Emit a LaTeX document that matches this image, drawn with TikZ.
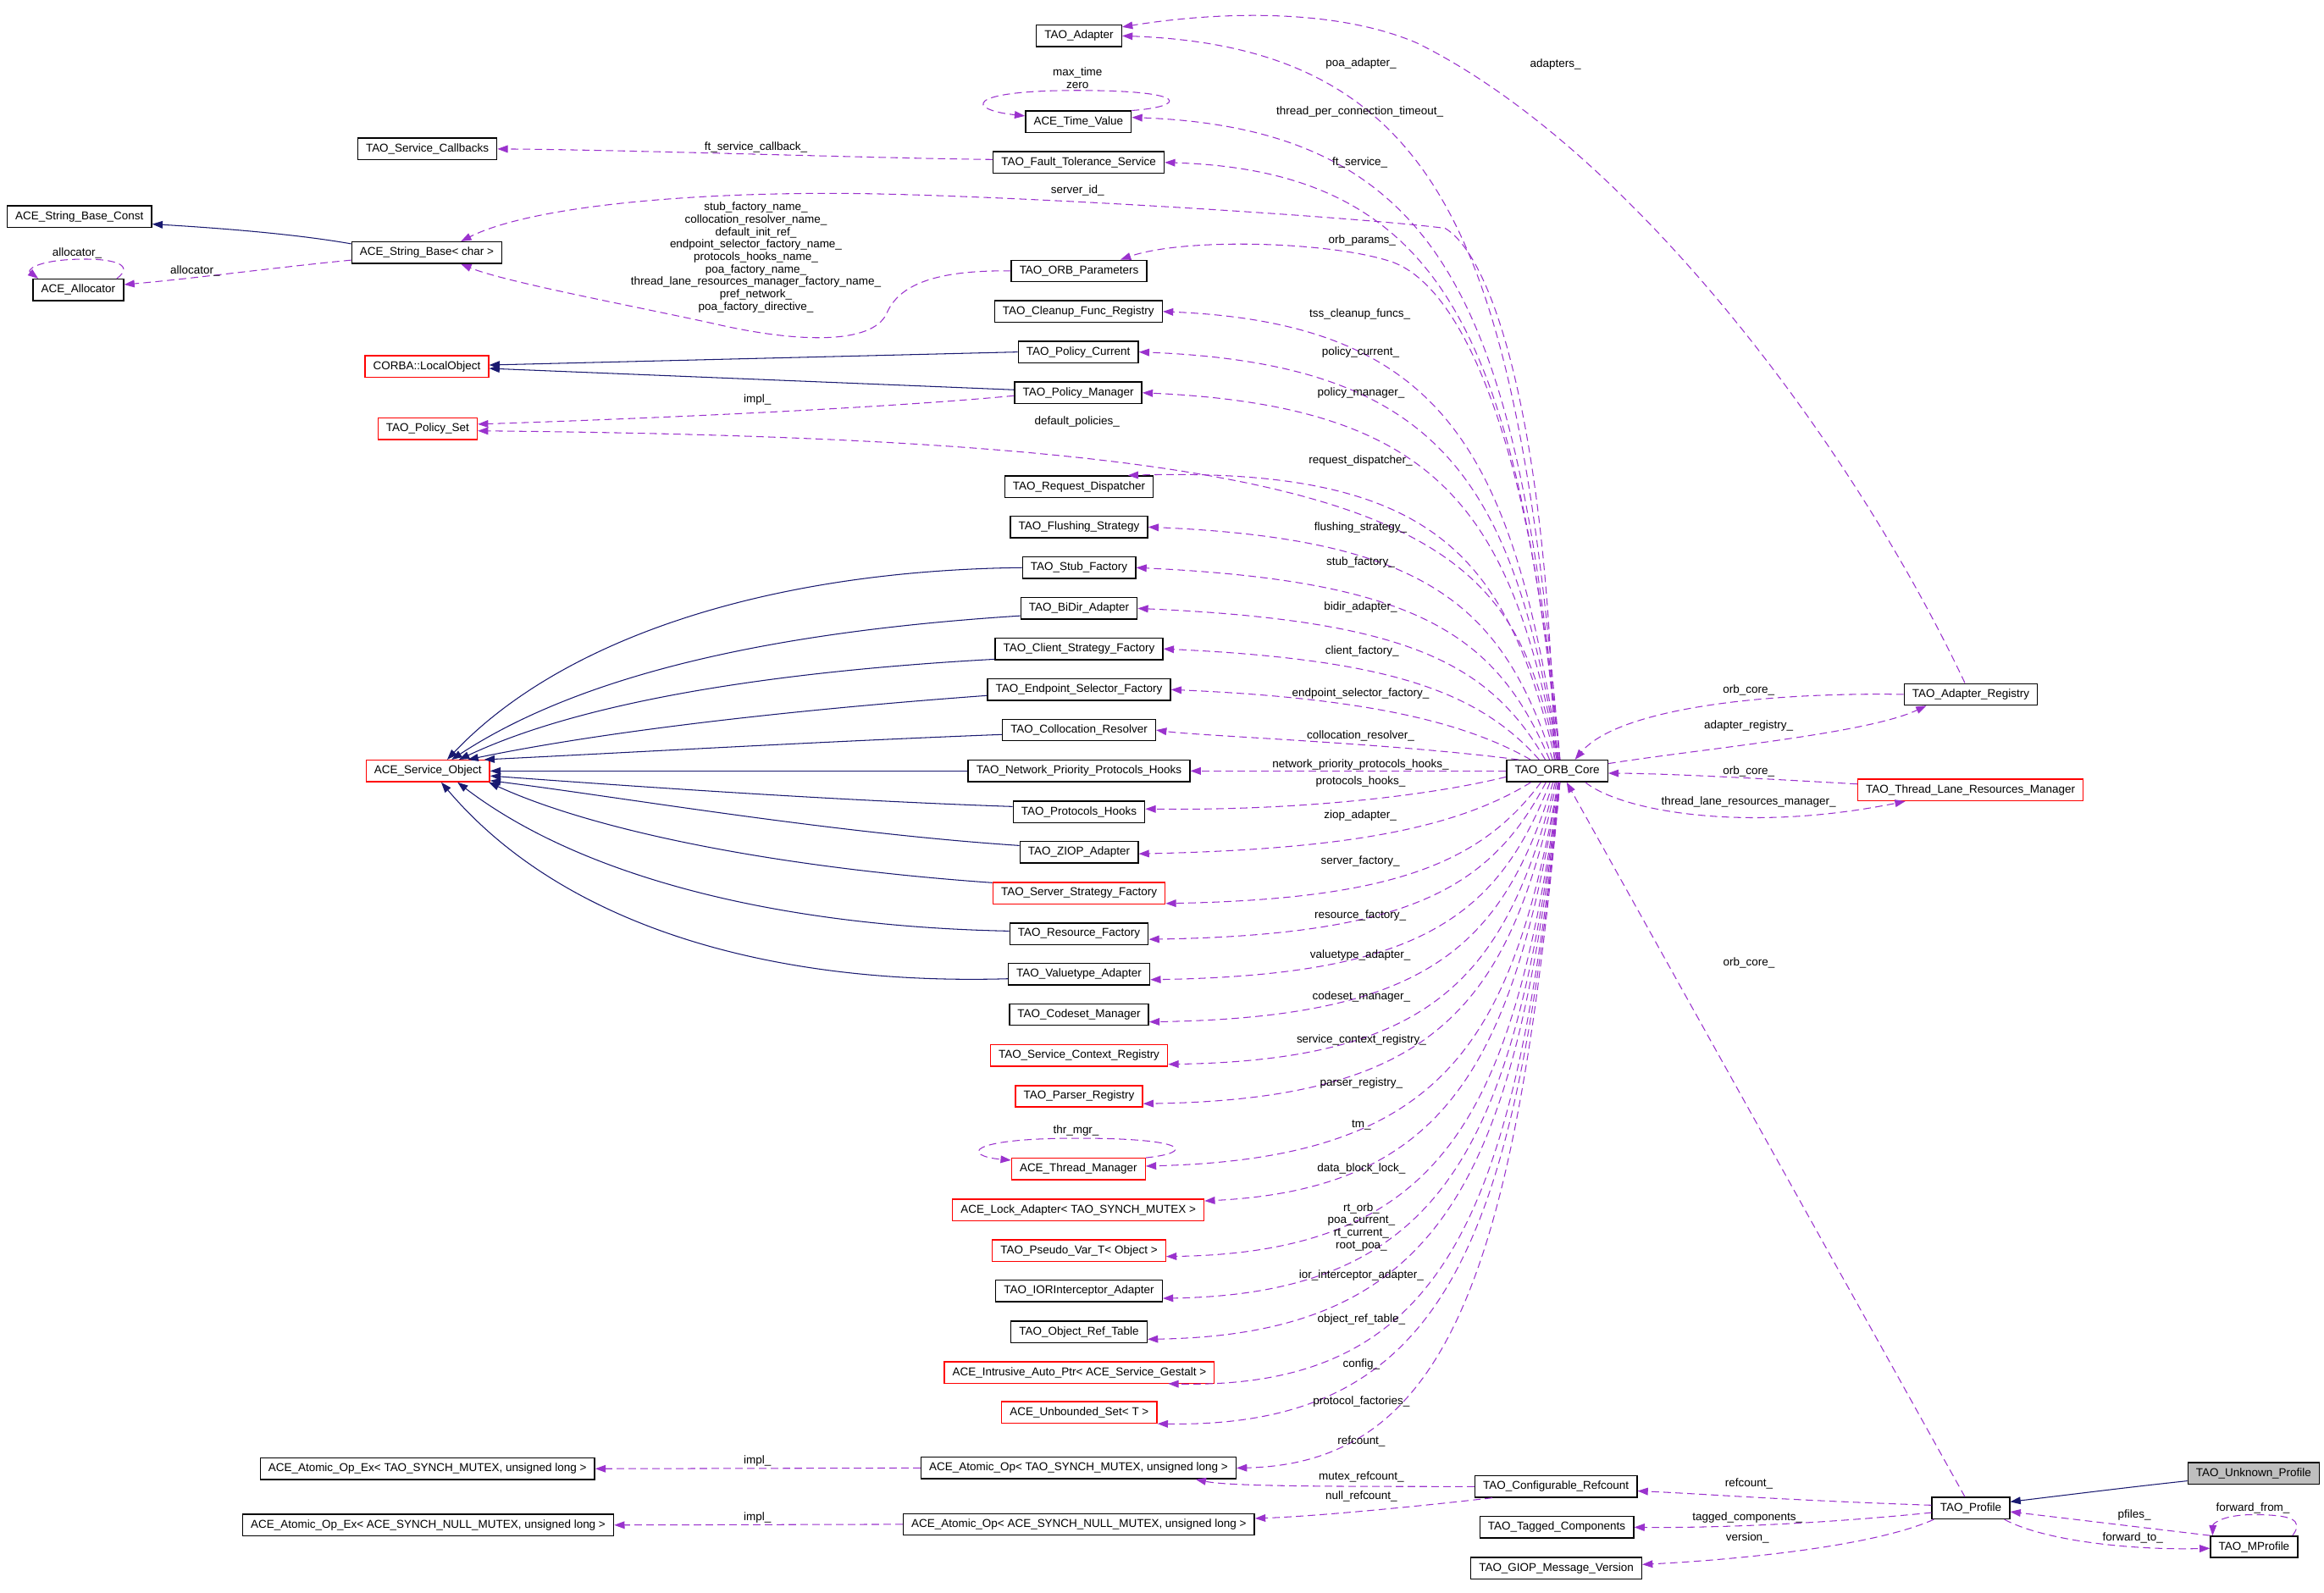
\documentclass[tikz,border=0pt]{standalone}
\usepackage{fontspec}
\setmainfont{Liberation Sans}
\usetikzlibrary{arrows.meta,calc}
\definecolor{dxpurple}{HTML}{9A32CD}
\definecolor{dxnavy}{HTML}{191970}
\definecolor{dxgray}{HTML}{BFBFBF}
\newcommand\dxfont{\fontsize{7.7pt}{8.4pt}\selectfont}
\tikzset{
 cls/.style={draw=black, line width=0.8pt, inner xsep=5.5pt, inner ysep=0pt, minimum height=14.5pt, font=\dxfont, fill=white},
 rcls/.style={cls, draw=red},
 gcls/.style={cls, fill=dxgray},
 lbl/.style={font=\dxfont, inner sep=0pt, align=center},
 dep/.style={draw=dxpurple, line width=0.6pt, dash pattern=on 5pt off 3pt, -{Triangle[length=7pt,width=5pt]}},
 inh/.style={draw=dxnavy, line width=0.6pt, -{Triangle[length=7pt,width=5pt]}},
}
\newcommand\orbedge[3]{%
  \draw[dep] let \p1=(#1), \p2=(#2),
    \n1={abs(\y2-(\y1))},
    \n2={\x1+2-36*exp(-\n1/80)},
    \n3={990-4500/(\n1+5)},
    \n4={\y2+(#3)}
  in ({\n2},{\y1}) .. controls ({\n2+0.4*(\n3-(\n2))},{\y1+0.7*(\n4-(\y1))}) and ({\n3},{\n4}) .. (\p2);}
\begin{document}
\begin{tikzpicture}[x=1pt,y=1pt]
\fill[white] (0,0) rectangle (1568,-1074.3);
\useasboundingbox (0,0) rectangle (1568,-1074.3);
% left column
\node[cls] (sbc) at (53.6,-146.2) {ACE\_String\_Base\_Const};
\node[cls] (sb) at (288,-170.5) {ACE\_String\_Base< char >};
\node[cls] (alloc) at (52.8,-195.6) {ACE\_Allocator};
\node[cls] (scb) at (288.3,-100.5) {TAO\_Service\_Callbacks};
\node[rcls] (lobj) at (288,-247.3) {CORBA::LocalObject};
\node[rcls] (pset) at (288.5,-289.2) {TAO\_Policy\_Set};
\node[rcls] (svc) at (288.7,-520.2) {ACE\_Service\_Object};
\node[cls] (aex1) at (288.4,-991) {ACE\_Atomic\_Op\_Ex< TAO\_SYNCH\_MUTEX, unsigned long >};
\node[cls] (aex2) at (288.9,-1029) {ACE\_Atomic\_Op\_Ex< ACE\_SYNCH\_NULL\_MUTEX, unsigned long >};
% middle column
\node[cls] (adapter) at (728,-24.2) {TAO\_Adapter};
\node[cls] (tv) at (727.6,-82.2) {ACE\_Time\_Value};
\node[cls] (fts) at (727.8,-109.6) {TAO\_Fault\_Tolerance\_Service};
\node[cls] (orbp) at (728,-182.8) {TAO\_ORB\_Parameters};
\node[cls] (cfr) at (727.6,-210.2) {TAO\_Cleanup\_Func\_Registry};
\node[cls] (pc) at (727.5,-237.5) {TAO\_Policy\_Current};
\node[cls] (pm) at (727.5,-265) {TAO\_Policy\_Manager};
\node[cls] (rd) at (728,-328.4) {TAO\_Request\_Dispatcher};
\node[cls] (fs) at (728,-355.6) {TAO\_Flushing\_Strategy};
\node[cls] (stub) at (728,-383) {TAO\_Stub\_Factory};
\node[cls] (bidir) at (728,-410.5) {TAO\_BiDir\_Adapter};
\node[cls] (csf) at (728,-437.8) {TAO\_Client\_Strategy\_Factory};
\node[cls] (esf) at (728,-465.3) {TAO\_Endpoint\_Selector\_Factory};
\node[cls] (cres) at (728,-492.6) {TAO\_Collocation\_Resolver};
\node[cls] (nph) at (728,-520.2) {TAO\_Network\_Priority\_Protocols\_Hooks};
\node[cls] (ph) at (728,-547.8) {TAO\_Protocols\_Hooks};
\node[cls] (ziop) at (728,-575.1) {TAO\_ZIOP\_Adapter};
\node[rcls] (ssf) at (728,-602.6) {TAO\_Server\_Strategy\_Factory};
\node[cls] (rf) at (728,-630) {TAO\_Resource\_Factory};
\node[cls] (vta) at (728,-657.4) {TAO\_Valuetype\_Adapter};
\node[cls] (csm) at (728,-684.5) {TAO\_Codeset\_Manager};
\node[rcls] (scr) at (728,-712.1) {TAO\_Service\_Context\_Registry};
\node[rcls] (preg) at (728,-739.7) {TAO\_Parser\_Registry};
\node[rcls] (tmgr) at (727.6,-788.8) {ACE\_Thread\_Manager};
\node[rcls] (lock) at (727.5,-816.3) {ACE\_Lock\_Adapter< TAO\_SYNCH\_MUTEX >};
\node[rcls] (pvar) at (728,-843.8) {TAO\_Pseudo\_Var\_T< Object >};
\node[cls] (iora) at (728,-871) {TAO\_IORInterceptor\_Adapter};
\node[cls] (ort) at (728,-898.6) {TAO\_Object\_Ref\_Table};
\node[rcls] (iap) at (728.2,-926) {ACE\_Intrusive\_Auto\_Ptr< ACE\_Service\_Gestalt >};
\node[rcls] (uset) at (728.2,-953) {ACE\_Unbounded\_Set< T >};
\node[cls] (aop1) at (727.7,-990.5) {ACE\_Atomic\_Op< TAO\_SYNCH\_MUTEX, unsigned long >};
\node[cls] (aop2) at (727.9,-1028.5) {ACE\_Atomic\_Op< ACE\_SYNCH\_NULL\_MUTEX, unsigned long >};
% right part
\node[cls] (orb) at (1050.6,-520.2) {TAO\_ORB\_Core};
\node[cls] (areg) at (1329.7,-468.5) {TAO\_Adapter\_Registry};
\node[rcls] (tlrm) at (1329.5,-533) {TAO\_Thread\_Lane\_Resources\_Manager};
\node[cls] (cref) at (1049.8,-1003) {TAO\_Configurable\_Refcount};
\node[cls] (tagc) at (1050.3,-1030.5) {TAO\_Tagged\_Components};
\node[cls] (giop) at (1050,-1058) {TAO\_GIOP\_Message\_Version};
\node[cls] (prof) at (1329.7,-1017.6) {TAO\_Profile};
\node[gcls] (unk) at (1520.5,-994.2) {TAO\_Unknown\_Profile};
\node[cls] (mprof) at (1520.8,-1043.7) {TAO\_MProfile};

% ---- ORB_Core members, upper half ----
\orbedge{orb.north}{adapter.east}{-8}
\orbedge{orb.north}{[yshift=3pt]tv.east}{-8}
\orbedge{orb.north}{fts.east}{-6}
\draw[dep] ([xshift=-2pt]orb.north) .. controls (1045,-300) and (1010,-175) .. (975,-154)
  .. controls (920,-147) and (720,-134) .. (600,-131)
  .. controls (480,-128) and (360,-138) .. ([xshift=23pt]sb.north);
\draw[dep] (orb.north) .. controls (1040,-350) and (1000,-200) .. (940,-177)
  .. controls (900,-163) and (800,-160) .. ([xshift=28pt]orbp.north);
\orbedge{orb.north}{cfr.east}{-8}
\orbedge{orb.north}{pc.east}{-8}
\orbedge{orb.north}{pm.east}{-9}
\orbedge{orb.north}{[yshift=-1.5pt]pset.east}{-6}
\orbedge{orb.north}{[xshift=33pt]rd.north}{6}
\orbedge{orb.north}{fs.east}{-8}
\orbedge{orb.north}{stub.east}{-9}
\orbedge{orb.north}{bidir.east}{-8}
\orbedge{orb.north}{csf.east}{-7}
\orbedge{orb.north}{esf.east}{-5}
\orbedge{orb.north}{cres.east}{-4}
\draw[dep] (orb.west) -- (nph.east);
\draw[dep] ([yshift=-4pt]orb.west) .. controls (960,-538) and (870,-547) .. ([yshift=2pt]ph.east);
% ---- ORB_Core members, lower half ----
\orbedge{orb.south}{[yshift=-1pt]ziop.east}{3}
\orbedge{orb.south}{[yshift=-7pt]ssf.east}{3}
\orbedge{orb.south}{[yshift=-3.8pt]rf.east}{3}
\orbedge{orb.south}{[yshift=-3.6pt]vta.east}{3}
\orbedge{orb.south}{[yshift=-5pt]csm.east}{3}
\orbedge{orb.south}{[yshift=-6pt]scr.east}{3}
\orbedge{orb.south}{[yshift=-5pt]preg.east}{3}
\orbedge{orb.south}{[yshift=2pt]tmgr.east}{5}
\orbedge{orb.south}{[yshift=6pt]lock.east}{8}
\orbedge{orb.south}{[yshift=-4pt]pvar.east}{3}
\orbedge{orb.south}{[yshift=-5pt]iora.east}{3}
\orbedge{orb.south}{[yshift=-5pt]ort.east}{3}
\orbedge{orb.south}{[xshift=60pt]iap.south}{-4}
\orbedge{orb.south}{uset.south east}{-3}
\orbedge{orb.south}{aop1.east}{3}

% ---- right cluster ----
\draw[dep] (areg.west) .. controls (1180,-467) and (1090,-480) .. ([xshift=12pt]orb.north);
\draw[dep] ([yshift=5pt]orb.east) .. controls (1150,-505) and (1260,-495) .. ([xshift=-30pt]areg.south);
\draw[dep] ([yshift=4pt]tlrm.west) .. controls (1200,-526) and (1130,-522) .. ([yshift=-1.5pt]orb.east);
\draw[dep] ([xshift=19pt]orb.south) .. controls (1095,-548) and (1180,-562) .. ([xshift=-44pt]tlrm.south);
\draw[dep] ([xshift=-4pt]areg.north) .. controls (1250,-300) and (1100,-100) .. (956,-29)
  .. controls (900,-5) and (820,-8) .. ([yshift=6pt]adapter.east);
\draw[dep] ([xshift=-4pt]prof.north) -- ([xshift=6.4pt]orb.south);

% ---- upper left ----
\draw[dep] ([yshift=2pt]fts.west) .. controls (600,-107) and (420,-101) .. (scb.east);
\draw[dep] (orbp.west) .. controls (625,-182) and (605,-195) .. (598,-212)
  .. controls (588,-232) and (540,-232) .. (480,-218)
  .. controls (420,-205) and (340,-190) .. ([xshift=23pt]sb.south);
\draw[inh] ([yshift=6pt]sb.west) .. controls (200,-158) and (150,-154) .. ([yshift=-5pt]sbc.east);
\draw[dep] ([yshift=-5pt]sb.west) .. controls (190,-180) and (130,-188) .. ([yshift=3.6pt]alloc.east);
\draw[dep] ([xshift=26pt]alloc.north) .. controls (92,-178) and (75,-174) .. (50,-175)
  .. controls (25,-176) and (18,-182) .. ([xshift=-27pt]alloc.north);
\draw[dep] (tv.north east) .. controls (800,-72) and (805,-61) .. (727,-61)
  .. controls (650,-61) and (652,-74) .. ([yshift=4pt]tv.west);
\draw[dep] (tmgr.north east) .. controls (805,-778) and (805,-768) .. (727,-768)
  .. controls (650,-768) and (650,-780) .. ([yshift=6pt]tmgr.west);

% ---- policies ----
\draw[inh] (pc.west) -- ([yshift=1pt]lobj.east);
\draw[inh] ([yshift=2pt]pm.west) -- ([yshift=-1.3pt]lobj.east);
\draw[dep] ([yshift=-2pt]pm.west) .. controls (600,-275) and (450,-282) .. ([yshift=3pt]pset.east);

% ---- inheritance to ACE_Service_Object ----
\draw[inh] (stub.west) .. controls (520,-385) and (380,-430) .. ([xshift=13pt]svc.north);
\draw[inh] ([yshift=-5pt]bidir.west) .. controls (540,-425) and (400,-450) .. ([xshift=16pt]svc.north);
\draw[inh] ([yshift=-7pt]csf.west) .. controls (540,-452) and (400,-470) .. ([xshift=21pt]svc.north);
\draw[inh] ([yshift=-4pt]esf.west) .. controls (520,-480) and (400,-495) .. ([xshift=27pt]svc.north);
\draw[inh] ([yshift=-3pt]cres.west) .. controls (560,-500) and (420,-508) .. ([xshift=38pt]svc.north);
\draw[inh] (nph.west) -- (svc.east);
\draw[inh] ([yshift=3.6pt]ph.west) .. controls (560,-540) and (420,-530) .. ([yshift=-3.3pt]svc.east);
\draw[inh] ([yshift=4.6pt]ziop.west) .. controls (560,-562) and (420,-538) .. ([yshift=-6.5pt]svc.east);
\draw[inh] ([yshift=7pt]ssf.west) .. controls (520,-585) and (400,-560) .. ([xshift=-1pt]svc.south east);
\draw[inh] ([yshift=1.8pt]rf.west) .. controls (520,-625) and (390,-590) .. ([xshift=20pt]svc.south);
\draw[inh] ([yshift=-3pt]vta.west) .. controls (520,-665) and (380,-625) .. ([xshift=9pt]svc.south);

% ---- atomic ops, profile ----
\draw[dep] (aop1.west) -- (aex1.east);
\draw[dep] (aop2.west) -- (aex2.east);
\draw[dep] (cref.west) .. controls (900,-1003) and (830,-1003) .. ([xshift=79pt]aop1.south);
\draw[dep] ([xshift=-43pt]cref.south) .. controls (960,-1016) and (890,-1023) .. ([yshift=4pt]aop2.east);
\draw[dep] ([yshift=2pt]prof.west) .. controls (1200,-1012) and (1150,-1008) .. ([yshift=-3pt]cref.east);
\draw[dep] ([yshift=-3pt]prof.west) .. controls (1230,-1028) and (1160,-1031) .. (tagc.east);
\draw[dep] ([xshift=-25pt]prof.south) .. controls (1260,-1045) and (1160,-1053) .. ([yshift=2.4pt]giop.east);
\draw[inh] ([yshift=-5pt]unk.west) .. controls (1440,-1003) and (1400,-1008) .. ([yshift=4.3pt]prof.east);
\draw[dep] (mprof.north west) .. controls (1440,-1030) and (1390,-1024) .. ([yshift=-2.4pt]prof.east);
\draw[dep] ([xshift=22.7pt]prof.south) .. controls (1380,-1040) and (1440,-1046) .. ([yshift=-1pt]mprof.west);
\draw[dep] ([xshift=26pt]mprof.north) .. controls (1555,-1025) and (1545,-1022) .. (1520,-1022)
  .. controls (1500,-1022) and (1493,-1028) .. ([xshift=-28pt]mprof.north);

% ---- labels ----
\node[lbl] (Lpoa) at (918.3,-42.9) {poa\_adapter\_};
\node[lbl] (Ltpct) at (917.5,-75.2) {thread\_per\_connection\_timeout\_};
\node[lbl] (Lft) at (917.5,-109.5) {ft\_service\_};
\node[lbl] (Lsid) at (727,-128.6) {server\_id\_};
\node[lbl] (Lorbp) at (919,-162.3) {orb\_params\_};
\node[lbl] (Ltss) at (917.5,-211.8) {tss\_cleanup\_funcs\_};
\node[lbl] (Lpc) at (918,-238) {policy\_current\_};
\node[lbl] (Lpm) at (918.3,-265.1) {policy\_manager\_};
\node[lbl] (Ldp) at (726.7,-284.8) {default\_policies\_};
\node[lbl] (Lrd) at (918,-310.7) {request\_dispatcher\_};
\node[lbl] (Lfs) at (918,-355.8) {flushing\_strategy\_};
\node[lbl] (Lstub) at (918,-379.2) {stub\_factory\_};
\node[lbl] (Lbidir) at (918,-409.5) {bidir\_adapter\_};
\node[lbl] (Lcsf) at (919,-439.4) {client\_factory\_};
\node[lbl] (Lesf) at (918,-467.8) {endpoint\_selector\_factory\_};
\node[lbl] (Lcres) at (918,-496.4) {collocation\_resolver\_};
\node[lbl] (Lnph) at (918,-515.8) {network\_priority\_protocols\_hooks\_};
\node[lbl] (Lph) at (918,-527.2) {protocols\_hooks\_};
\node[lbl] (Lziop) at (917.8,-550) {ziop\_adapter\_};
\node[lbl] (Lssf) at (917.8,-581) {server\_factory\_};
\node[lbl] (Lrf) at (917.8,-617.5) {resource\_factory\_};
\node[lbl] (Lvta) at (917.8,-644.4) {valuetype\_adapter\_};
\node[lbl] (Lcsm) at (918.5,-672.6) {codeset\_manager\_};
\node[lbl] (Lscr) at (918.5,-701.6) {service\_context\_registry\_};
\node[lbl] (Lpreg) at (918.5,-730.7) {parser\_registry\_};
\node[lbl] (Ltm) at (918.5,-759) {tm\_};
\node[lbl] (Ldbl) at (918.5,-788.6) {data\_block\_lock\_};
\node[lbl] (Lpvar) at (918.5,-827.8) {rt\_orb\_\\poa\_current\_\\rt\_current\_\\root\_poa\_};
\node[lbl] (Lior) at (918.5,-860.7) {ior\_interceptor\_adapter\_};
\node[lbl] (Lort) at (918.5,-890.1) {object\_ref\_table\_};
\node[lbl] (Lcfg) at (918.5,-920.3) {config\_};
\node[lbl] (Lpf) at (918.5,-945.8) {protocol\_factories\_};
\node[lbl] (Lrc) at (918.5,-972.6) {refcount\_};
\node[lbl] (Lmrc) at (918.5,-996.6) {mutex\_refcount\_};
\node[lbl] (Lnrc) at (918.5,-1009.8) {null\_refcount\_};
\node[lbl] (Limpl1) at (511,-985.7) {impl\_};
\node[lbl] (Limpl2) at (511,-1023.8) {impl\_};
\node[lbl] (Lprc) at (1180,-1001) {refcount\_};
\node[lbl] (Ltagc) at (1179,-1023.8) {tagged\_components\_};
\node[lbl] (Lver) at (1179,-1037.5) {version\_};
\node[lbl] (Lpfl) at (1440,-1022.5) {pfiles\_};
\node[lbl] (Lfwt) at (1439,-1037.5) {forward\_to\_};
\node[lbl] (Lfwf) at (1520,-1017.5) {forward\_from\_};
\node[lbl] (Lorbc1) at (1179.8,-465.7) {orb\_core\_};
\node[lbl] (Lareg) at (1179.8,-489.5) {adapter\_registry\_};
\node[lbl] (Lorbc2) at (1179.8,-520.6) {orb\_core\_};
\node[lbl] (Ltlrm) at (1179.8,-541) {thread\_lane\_resources\_manager\_};
\node[lbl] (Lorbc3) at (1180,-649.6) {orb\_core\_};
\node[lbl] (Ladapters) at (1049.5,-43.4) {adapters\_};
\node[lbl] (Ltvself) at (727,-52.5) {max\_time\\zero};
\node[lbl] (Lthr) at (726,-763) {thr\_mgr\_};
\node[lbl] (Lftcb) at (510,-99.6) {ft\_service\_callback\_};
\node[lbl] (Lsbblock) at (510,-173.7) {stub\_factory\_name\_\\collocation\_resolver\_name\_\\default\_init\_ref\_\\endpoint\_selector\_factory\_name\_\\protocols\_hooks\_name\_\\poa\_factory\_name\_\\thread\_lane\_resources\_manager\_factory\_name\_\\pref\_network\_\\poa\_factory\_directive\_};
\node[lbl] (Lallocself) at (52,-170.9) {allocator\_};
\node[lbl] (Lalloc) at (131.6,-182.9) {allocator\_};
\node[lbl] (Limplp) at (511,-269.6) {impl\_};
\end{tikzpicture}
\end{document}
